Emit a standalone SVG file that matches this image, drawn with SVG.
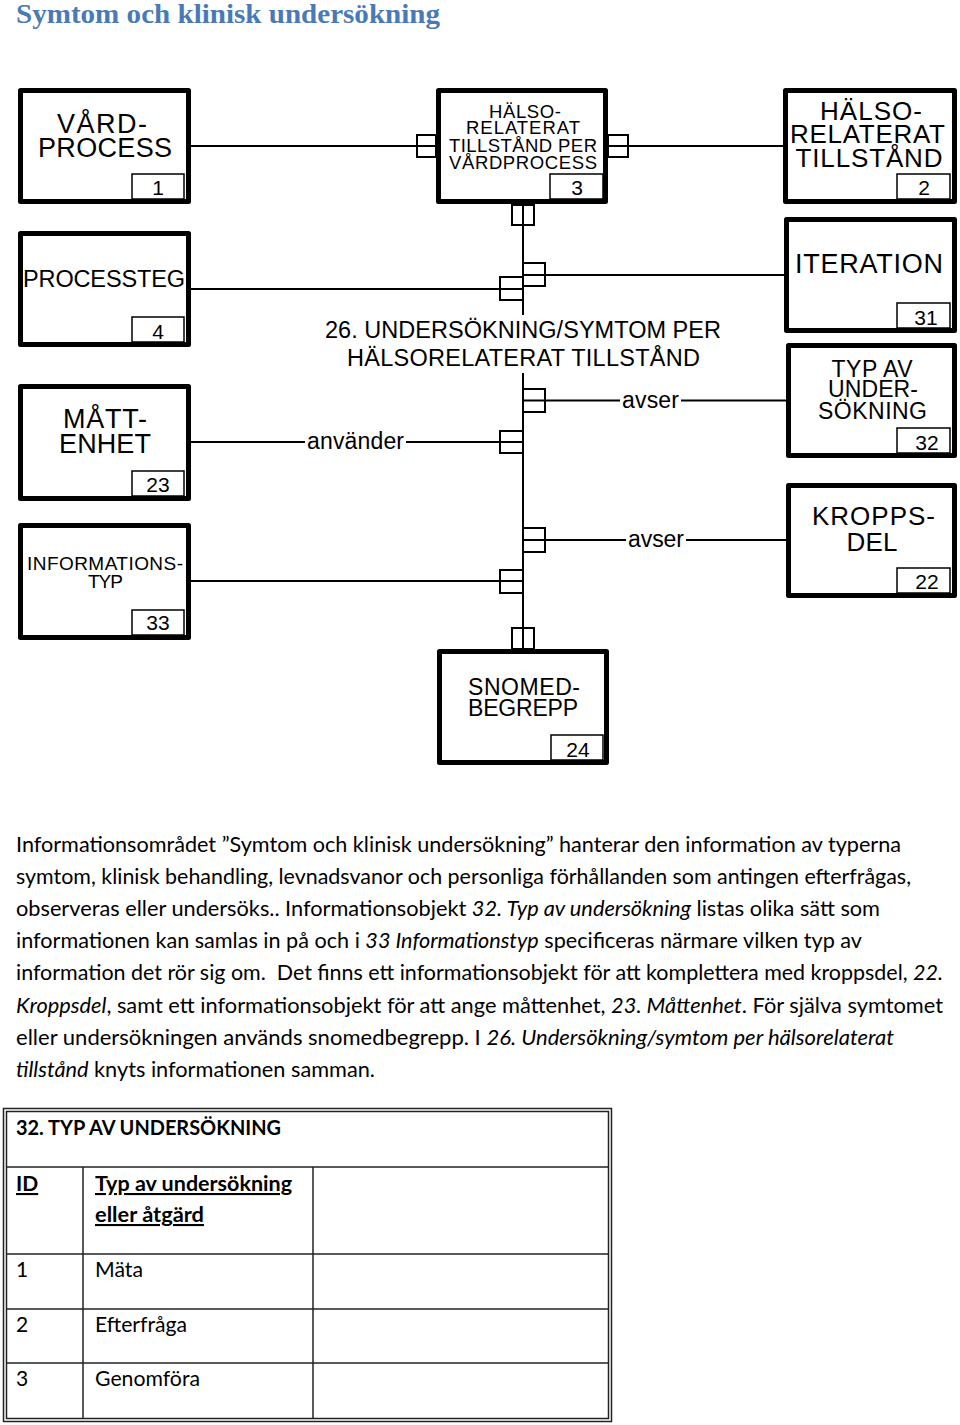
<svg xmlns="http://www.w3.org/2000/svg" width="960" height="1425" viewBox="0 0 960 1425">
<style>
.box{fill:#fff;stroke:#000;stroke-width:5;stroke-linejoin:round}
.tab{fill:#fff;stroke:#000;stroke-width:1.5}
.conn{fill:none;stroke:#000;stroke-width:2}
.sq{fill:#fff;stroke:#000;stroke-width:2}
.t{font-family:"Liberation Sans",Arial,sans-serif;fill:#000;text-anchor:middle}
.n{font-family:"Liberation Sans",Arial,sans-serif;fill:#000;text-anchor:middle;font-size:21px}
.lbl{font-family:"Liberation Sans",Arial,sans-serif;fill:#000;font-size:23px}
.p{font-family:Lato,"Open Sans",sans-serif;font-size:21px;fill:#000}
.i{font-style:italic}
.tb{font-family:Lato,"Open Sans",sans-serif;font-size:21px;fill:#000}
.tl{fill:none;stroke:#222;stroke-width:1.5}
</style>

<text x="16" y="23" font-family="Liberation Serif,serif" font-weight="bold" font-size="27" fill="#4A7AB5" textLength="424" lengthAdjust="spacingAndGlyphs">Symtom och klinisk undersökning</text>

<g id="connectors">
  <line class="conn" x1="191" y1="146" x2="436" y2="146"/>
  <rect class="sq" x="417" y="135" width="19" height="22"/>
  <line class="conn" x1="417" y1="146" x2="436" y2="146"/>
  <rect class="sq" x="608" y="135" width="20" height="22"/>
  <line class="conn" x1="608" y1="146" x2="783" y2="146"/>
  <rect class="sq" x="512" y="205" width="22" height="20"/>
  <line class="conn" x1="523" y1="205" x2="523" y2="315"/>
  <line class="conn" x1="523" y1="373" x2="523" y2="649"/>
  <rect class="sq" x="523" y="263" width="22" height="23"/>
  <line class="conn" x1="523" y1="275" x2="784" y2="275"/>
  <rect class="sq" x="500" y="277" width="23" height="23"/>
  <line class="conn" x1="191" y1="289" x2="523" y2="289"/>
  <rect class="sq" x="523" y="389" width="22" height="23"/>
  <line class="conn" x1="523" y1="400.5" x2="620" y2="400.5"/>
  <line class="conn" x1="681" y1="400.5" x2="786" y2="400.5"/>
  <text class="lbl" x="622" y="408" textLength="57">avser</text>
  <rect class="sq" x="500" y="431" width="23" height="22"/>
  <line class="conn" x1="191" y1="442" x2="305" y2="442"/>
  <line class="conn" x1="406" y1="442" x2="523" y2="442"/>
  <text class="lbl" x="307" y="449" textLength="97">använder</text>
  <rect class="sq" x="523" y="528" width="22" height="24"/>
  <line class="conn" x1="523" y1="540" x2="626" y2="540"/>
  <line class="conn" x1="686" y1="540" x2="786" y2="540"/>
  <text class="lbl" x="628" y="547" textLength="56">avser</text>
  <rect class="sq" x="500" y="570" width="23" height="23"/>
  <line class="conn" x1="191" y1="581" x2="523" y2="581"/>
  <rect class="sq" x="512" y="628" width="22" height="21"/>
  <line class="conn" x1="523" y1="628" x2="523" y2="649"/>
</g>

<g id="entity26">
  <text class="t" x="523" y="338" font-size="23.5" textLength="396">26. UNDERSÖKNING/SYMTOM PER</text>
  <text class="t" x="523.5" y="366" font-size="23.5" textLength="353">HÄLSORELATERAT TILLSTÅND</text>
</g>

<g id="n1">
  <rect class="box" x="20.5" y="90.5" width="168" height="111"/>
  <rect class="tab" x="132" y="174" width="52" height="25"/>
  <text class="t" x="102" y="133" font-size="27" textLength="90">VÅRD-</text>
  <text class="t" x="105" y="157" font-size="27" textLength="134">PROCESS</text>
  <text class="n" x="158" y="195">1</text>
</g>

<g id="n4">
  <rect class="box" x="20.5" y="233.5" width="168" height="111"/>
  <rect class="tab" x="132" y="317" width="52" height="25"/>
  <text class="t" x="104" y="287" font-size="23.5" textLength="162">PROCESSTEG</text>
  <text class="n" x="158" y="339" font-size="20">4</text>
</g>

<g id="n23">
  <rect class="box" x="20.5" y="386.5" width="168" height="112"/>
  <rect class="tab" x="132" y="471" width="52" height="25"/>
  <text class="t" x="105" y="428" font-size="27" textLength="84">MÅTT-</text>
  <text class="t" x="105" y="453" font-size="27" textLength="92">ENHET</text>
  <text class="n" x="158" y="492" font-size="24">23</text>
</g>

<g id="n33">
  <rect class="box" x="20.5" y="525.5" width="168" height="112"/>
  <rect class="tab" x="132" y="610" width="52" height="25"/>
  <text class="t" x="105" y="570" font-size="19" textLength="156">INFORMATIONS-</text>
  <text class="t" x="105.5" y="588" font-size="19" textLength="35">TYP</text>
  <text class="n" x="158" y="630" font-size="18">33</text>
</g>

<g id="n3">
  <rect class="box" x="438.5" y="90.5" width="167" height="111"/>
  <rect class="tab" x="550" y="174" width="53" height="25"/>
  <text class="t" x="525" y="118" font-size="18.5" textLength="72">HÄLSO-</text>
  <text class="t" x="523" y="134" font-size="18.5" textLength="114">RELATERAT</text>
  <text class="t" x="523" y="152" font-size="18.5" textLength="148">TILLSTÅND PER</text>
  <text class="t" x="523" y="169" font-size="18.5" textLength="148">VÅRDPROCESS</text>
  <text class="n" x="577" y="195">3</text>
</g>

<g id="n2">
  <rect class="box" x="785.5" y="90.5" width="169" height="111"/>
  <rect class="tab" x="897" y="174" width="53" height="25"/>
  <text class="t" x="871" y="120" font-size="26" textLength="102">HÄLSO-</text>
  <text class="t" x="867.5" y="143" font-size="26" textLength="155">RELATERAT</text>
  <text class="t" x="869" y="167" font-size="26" textLength="147">TILLSTÅND</text>
  <text class="n" x="924" y="195">2</text>
</g>

<g id="n31">
  <rect class="box" x="786.5" y="219.5" width="168" height="111"/>
  <rect class="tab" x="897" y="303" width="53" height="25"/>
  <text class="t" x="869" y="273" font-size="27" textLength="148">ITERATION</text>
  <text class="n" x="926" y="325">31</text>
</g>

<g id="n32">
  <rect class="box" x="788.5" y="345.5" width="166" height="110"/>
  <rect class="tab" x="897" y="428" width="53" height="25"/>
  <text class="t" x="872" y="377" font-size="23" textLength="81">TYP AV</text>
  <text class="t" x="873" y="397" font-size="23" textLength="90">UNDER-</text>
  <text class="t" x="872.5" y="419" font-size="23" textLength="109">SÖKNING</text>
  <text class="n" x="927" y="450">32</text>
</g>

<g id="n22">
  <rect class="box" x="788.5" y="485.5" width="166" height="110"/>
  <rect class="tab" x="897" y="568" width="53" height="25"/>
  <text class="t" x="873.5" y="525" font-size="26" textLength="123">KROPPS-</text>
  <text class="t" x="872" y="551" font-size="26" textLength="51">DEL</text>
  <text class="n" x="927" y="589">22</text>
</g>

<g id="n24">
  <rect class="box" x="439.5" y="651.5" width="167" height="111"/>
  <rect class="tab" x="551" y="735" width="52" height="25"/>
  <text class="t" x="524" y="695" font-size="23" textLength="112">SNOMED-</text>
  <text class="t" x="523" y="716" font-size="23" textLength="110">BEGREPP</text>
  <text class="n" x="578" y="757">24</text>
</g>

<g id="paragraph">
  <text class="p" x="16" y="852" textLength="885" lengthAdjust="spacingAndGlyphs">Informationsområdet ”Symtom och klinisk undersökning” hanterar den information av typerna</text>
  <text class="p" x="16" y="884" textLength="895" lengthAdjust="spacingAndGlyphs">symtom, klinisk behandling, levnadsvanor och personliga förhållanden som antingen efterfrågas,</text>
  <text class="p" x="16" y="916" textLength="864" lengthAdjust="spacingAndGlyphs">observeras eller undersöks.. Informationsobjekt <tspan class="i">32. Typ av undersökning</tspan> listas olika sätt som</text>
  <text class="p" x="16" y="948" textLength="846" lengthAdjust="spacingAndGlyphs">informationen kan samlas in på och i <tspan class="i">33 Informationstyp</tspan> specificeras närmare vilken typ av</text>
  <text class="p" x="16" y="980" textLength="927" lengthAdjust="spacingAndGlyphs" xml:space="preserve">information det rör sig om.  Det finns ett informationsobjekt för att komplettera med kroppsdel, <tspan class="i">22.</tspan></text>
  <text class="p" x="16" y="1013" textLength="927" lengthAdjust="spacingAndGlyphs"><tspan class="i">Kroppsdel</tspan>, samt ett informationsobjekt för att ange måttenhet, <tspan class="i">23. Måttenhet</tspan>. För själva symtomet</text>
  <text class="p" x="16" y="1045" textLength="878" lengthAdjust="spacingAndGlyphs">eller undersökningen används snomedbegrepp. I <tspan class="i">26. Undersökning/symtom per hälsorelaterat</tspan></text>
  <text class="p" x="16" y="1077" textLength="359" lengthAdjust="spacingAndGlyphs"><tspan class="i">tillstånd</tspan> knyts informationen samman.</text>
</g>

<g id="table32">
  <rect class="tl" x="3.5" y="1108.5" width="608" height="313"/>
  <rect class="tl" x="6.5" y="1111.5" width="602" height="307"/>
  <line class="tl" x1="7" y1="1167" x2="609" y2="1167"/>
  <line class="tl" x1="83" y1="1167" x2="83" y2="1418"/>
  <line class="tl" x1="313" y1="1167" x2="313" y2="1418"/>
  <line class="tl" x1="7" y1="1254" x2="609" y2="1254"/>
  <line class="tl" x1="7" y1="1309" x2="609" y2="1309"/>
  <line class="tl" x1="7" y1="1363" x2="609" y2="1363"/>
  <text class="tb" x="16" y="1135" font-weight="bold" textLength="265" lengthAdjust="spacingAndGlyphs">32. TYP AV UNDERSÖKNING</text>
  <text class="tb" x="16" y="1191" font-weight="bold" text-decoration="underline">ID</text>
  <text class="tb" x="95" y="1191" font-weight="bold" text-decoration="underline" textLength="197" lengthAdjust="spacingAndGlyphs">Typ av undersökning</text>
  <text class="tb" x="95" y="1222" font-weight="bold" text-decoration="underline" textLength="109" lengthAdjust="spacingAndGlyphs">eller åtgärd</text>
  <text class="tb" x="16" y="1277">1</text>
  <text class="tb" x="95" y="1277" textLength="48" lengthAdjust="spacingAndGlyphs">Mäta</text>
  <text class="tb" x="16" y="1332">2</text>
  <text class="tb" x="95" y="1332" textLength="92" lengthAdjust="spacingAndGlyphs">Efterfråga</text>
  <text class="tb" x="16" y="1386">3</text>
  <text class="tb" x="95" y="1386" textLength="105" lengthAdjust="spacingAndGlyphs">Genomföra</text>
</g>
</svg>
